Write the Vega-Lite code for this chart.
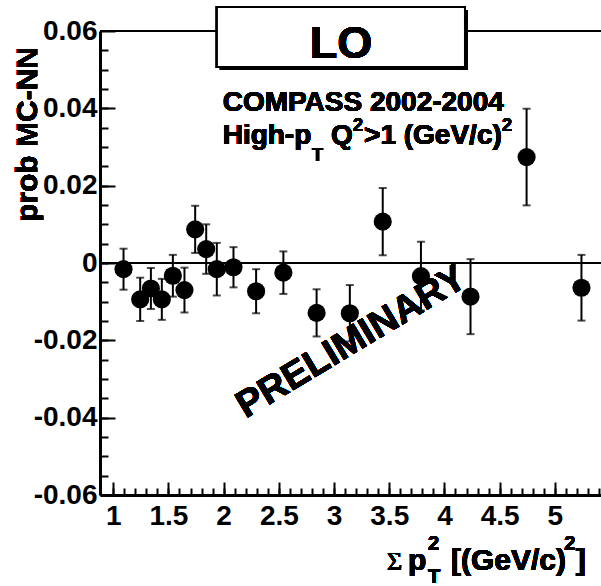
{
  "$schema": "https://vega.github.io/schema/vega-lite/v6.json",
  "width": 501,
  "height": 464,
  "autosize": {"type": "none"},
  "padding": {"left": 100, "top": 31, "right": 0, "bottom": 91},
  "background": "white",
  "config": {"view": {"stroke": null}, "font": "Liberation Sans"},
  "data": {
    "values": [
      {"x": 1.093, "y": -0.0016, "err": 0.0053},
      {"x": 1.244, "y": -0.0094, "err": 0.0056},
      {"x": 1.341, "y": -0.0066, "err": 0.0053},
      {"x": 1.440, "y": -0.0094, "err": 0.0053},
      {"x": 1.540, "y": -0.0033, "err": 0.0054},
      {"x": 1.645, "y": -0.0070, "err": 0.0058},
      {"x": 1.742, "y": 0.0087, "err": 0.0061},
      {"x": 1.842, "y": 0.0036, "err": 0.0064},
      {"x": 1.938, "y": -0.0016, "err": 0.0068},
      {"x": 2.089, "y": -0.0011, "err": 0.0052},
      {"x": 2.294, "y": -0.0073, "err": 0.0057},
      {"x": 2.541, "y": -0.0025, "err": 0.0055},
      {"x": 2.842, "y": -0.0129, "err": 0.0061},
      {"x": 3.143, "y": -0.0130, "err": 0.0073},
      {"x": 3.441, "y": 0.0107, "err": 0.0087},
      {"x": 3.787, "y": -0.0034, "err": 0.0089},
      {"x": 4.236, "y": -0.0087, "err": 0.0097},
      {"x": 4.744, "y": 0.0274, "err": 0.0125},
      {"x": 5.241, "y": -0.0064, "err": 0.0085}
    ]
  },
  "resolve": {"axis": {"x": "independent", "y": "independent"}},
  "layer": [
    {
      "mark": {"type": "rule", "color": "black", "strokeWidth": 2},
      "encoding": {"y": {"datum": 0.06, "axis": null}}
    },
    {
      "mark": {"type": "rule", "color": "black", "strokeWidth": 2},
      "encoding": {"y": {"datum": 0, "axis": null}}
    },
    {
      "mark": {"type": "text", "text": "PRELIMINARY", "fontSize": 38, "fontWeight": "bold", "angle": 329, "align": "center", "baseline": "middle", "color": "black"},
      "encoding": {"x": {"datum": 3.16, "axis": null}, "y": {"datum": -0.0205, "axis": null}}
    },
    {
      "mark": {"type": "errorbar", "color": "black", "thickness": 2, "ticks": {"size": 8, "thickness": 2, "color": "black"}, "rule": {"strokeWidth": 2, "color": "black"}},
      "encoding": {
        "x": {"field": "x", "type": "quantitative", "axis": {
          "orient": "bottom", "title": null, "labels": false, "domain": false, "grid": false,
          "values": [1.0, 1.1, 1.2, 1.3, 1.4, 1.5, 1.6, 1.7, 1.8, 1.9, 2.0, 2.1, 2.2, 2.3, 2.4, 2.5, 2.6, 2.7, 2.8, 2.9, 3.0, 3.1, 3.2, 3.3, 3.4, 3.5, 3.6, 3.7, 3.8, 3.9, 4.0, 4.1, 4.2, 4.3, 4.4, 4.5, 4.6, 4.7, 4.8, 4.9, 5.0, 5.1, 5.2, 5.3, 5.4],
          "tickSize": -7, "tickWidth": 2, "tickColor": "black"}},
        "y": {"field": "y", "type": "quantitative", "axis": {
          "orient": "left", "title": null, "labels": false, "domain": false, "grid": false,
          "values": [-0.055, -0.05, -0.045, -0.04, -0.035, -0.03, -0.025, -0.02, -0.015, -0.01, -0.005, 0, 0.005, 0.01, 0.015, 0.02, 0.025, 0.03, 0.035, 0.04, 0.045, 0.05, 0.055],
          "tickSize": -8, "tickWidth": 2, "tickColor": "black"}},
        "yError": {"field": "err"}
      }
    },
    {
      "mark": {"type": "point", "shape": "circle", "filled": true, "size": 330, "color": "black", "opacity": 1},
      "encoding": {
        "x": {"field": "x", "type": "quantitative",
          "scale": {"domain": [0.88, 5.418], "nice": false, "zero": false},
          "axis": {
            "orient": "bottom", "title": null, "grid": false,
            "values": [1, 1.5, 2, 2.5, 3, 3.5, 4, 4.5, 5], "format": "~g",
            "tickSize": -13, "tickWidth": 2, "tickColor": "black",
            "domainWidth": 3, "domainColor": "black",
            "labelFont": "Liberation Sans", "labelFontWeight": "bold", "labelFontSize": 28, "labelColor": "black",
            "labelPadding": 20, "labelFlush": false, "labelOverlap": false}},
        "y": {"field": "y", "type": "quantitative",
          "scale": {"domain": [-0.06, 0.06], "nice": false, "zero": false},
          "axis": {
            "orient": "left", "title": null, "grid": false,
            "values": [-0.06, -0.04, -0.02, 0, 0.02, 0.04, 0.06], "format": "~g",
            "labelExpr": "replace(datum.label, '\u2212', '-')",
            "tickSize": -15, "tickWidth": 2, "tickColor": "black",
            "domainWidth": 3, "domainColor": "black",
            "labelFont": "Liberation Sans", "labelFontWeight": "bold", "labelFontSize": 28, "labelColor": "black",
            "labelPadding": 18, "labelFlush": false, "labelOverlap": false}}
      }
    },
    {
      "mark": {"type": "rect", "color": "black"},
      "encoding": {"x": {"datum": 1.9665, "axis": null}, "x2": {"datum": 4.213}, "y": {"datum": 0.0654, "axis": null}, "y2": {"datum": 0.0499}}
    },
    {
      "mark": {"type": "rect", "fill": "white", "stroke": "black", "strokeWidth": 2},
      "encoding": {"x": {"datum": 1.939, "axis": null}, "x2": {"datum": 4.186}, "y": {"datum": 0.0662, "axis": null}, "y2": {"datum": 0.0507}}
    },
    {
      "mark": {"type": "text", "text": "LO", "fontSize": 45, "fontWeight": "bold", "align": "center", "baseline": "alphabetic", "color": "black"},
      "encoding": {"x": {"datum": 3.0625, "axis": null}, "y": {"datum": 0.0530, "axis": null}}
    },
    {
      "mark": {"type": "text", "text": "COMPASS 2002-2004", "fontSize": 28, "fontWeight": "bold", "align": "left", "baseline": "alphabetic", "color": "black"},
      "encoding": {"x": {"datum": 1.991, "axis": null}, "y": {"datum": 0.0393, "axis": null}}
    },
    {
      "mark": {"type": "text", "text": "High-p", "fontSize": 28, "fontWeight": "bold", "align": "left", "baseline": "alphabetic", "color": "black"},
      "encoding": {"x": {"datum": 1.991, "axis": null}, "y": {"datum": 0.03077, "axis": null}}
    },
    {
      "mark": {"type": "text", "text": "T", "fontSize": 18, "fontWeight": "bold", "align": "left", "baseline": "alphabetic", "color": "black"},
      "encoding": {"x": {"datum": 2.8007, "axis": null}, "y": {"datum": 0.02638, "axis": null}}
    },
    {
      "mark": {"type": "text", "text": "Q", "fontSize": 28, "fontWeight": "bold", "align": "left", "baseline": "alphabetic", "color": "black"},
      "encoding": {"x": {"datum": 2.9728, "axis": null}, "y": {"datum": 0.03077, "axis": null}}
    },
    {
      "mark": {"type": "text", "text": "2", "fontSize": 18, "fontWeight": "bold", "align": "left", "baseline": "alphabetic", "color": "black"},
      "encoding": {"x": {"datum": 3.1721, "axis": null}, "y": {"datum": 0.03413, "axis": null}}
    },
    {
      "mark": {"type": "text", "text": ">1 (GeV/c)", "fontSize": 28, "fontWeight": "bold", "align": "left", "baseline": "alphabetic", "color": "black"},
      "encoding": {"x": {"datum": 3.2717, "axis": null}, "y": {"datum": 0.03077, "axis": null}}
    },
    {
      "mark": {"type": "text", "text": "2", "fontSize": 18, "fontWeight": "bold", "align": "left", "baseline": "alphabetic", "color": "black"},
      "encoding": {"x": {"datum": 4.5217, "axis": null}, "y": {"datum": 0.03413, "axis": null}}
    },
    {
      "mark": {"type": "text", "text": "\u03a3", "font": "Liberation Serif", "fontSize": 26, "fontWeight": "normal", "align": "left", "baseline": "alphabetic", "color": "black"},
      "encoding": {"x": {"datum": 3.479, "axis": null}, "y": {"datum": -0.07939, "axis": null}}
    },
    {
      "mark": {"type": "text", "text": "p", "fontSize": 30, "fontWeight": "bold", "align": "left", "baseline": "alphabetic", "color": "black"},
      "encoding": {"x": {"datum": 3.67, "axis": null}, "y": {"datum": -0.07939, "axis": null}}
    },
    {
      "mark": {"type": "text", "text": "2", "fontSize": 20, "fontWeight": "bold", "align": "left", "baseline": "alphabetic", "color": "black"},
      "encoding": {"x": {"datum": 3.85, "axis": null}, "y": {"datum": -0.07422, "axis": null}}
    },
    {
      "mark": {"type": "text", "text": "T", "fontSize": 20, "fontWeight": "bold", "align": "left", "baseline": "alphabetic", "color": "black"},
      "encoding": {"x": {"datum": 3.85, "axis": null}, "y": {"datum": -0.08275, "axis": null}}
    },
    {
      "mark": {"type": "text", "text": "[(GeV/c)", "fontSize": 30, "fontWeight": "bold", "align": "right", "baseline": "alphabetic", "color": "black"},
      "encoding": {"x": {"datum": 5.1015, "axis": null}, "y": {"datum": -0.07939, "axis": null}}
    },
    {
      "mark": {"type": "text", "text": "2", "fontSize": 20, "fontWeight": "bold", "align": "left", "baseline": "alphabetic", "color": "black"},
      "encoding": {"x": {"datum": 5.084, "axis": null}, "y": {"datum": -0.07422, "axis": null}}
    },
    {
      "mark": {"type": "text", "text": "]", "fontSize": 30, "fontWeight": "bold", "align": "left", "baseline": "alphabetic", "color": "black"},
      "encoding": {"x": {"datum": 5.19, "axis": null}, "y": {"datum": -0.07939, "axis": null}}
    },
    {
      "mark": {"type": "text", "text": "prob MC-NN", "fontSize": 30, "fontWeight": "bold", "angle": 270, "align": "right", "baseline": "alphabetic", "color": "black"},
      "encoding": {"x": {"datum": 0.3089, "axis": null}, "y": {"datum": 0.05586, "axis": null}}
    }
  ]
}
